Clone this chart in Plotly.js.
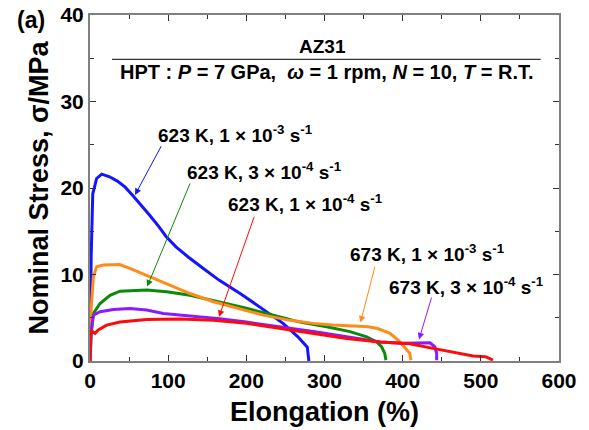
<!DOCTYPE html>
<html>
<head>
<meta charset="utf-8">
<script src="https://cdn.plot.ly/plotly-3.0.1.min.js"></script>
<style>html,body{margin:0;padding:0;background:#fff;}#chart{width:589px;height:430px;}</style>
</head>
<body>
<div id="chart"></div>
<script>
// Data (Elongation %, Nominal stress MPa)
const blueX   = [0, 1.5, 3.5, 8.5, 15, 25, 35, 45, 55, 65, 75, 87.6, 97.3, 110, 126, 145, 165, 194, 222.7, 247, 266, 273, 278, 279.5, 280];
const blueY   = [0, 12, 19.3, 21.1, 21.6, 21.3, 20.8, 20.1, 19.1, 18.1, 17.0, 15.6, 14.4, 13.2, 12.0, 10.7, 9.35, 7.7, 5.9, 4.35, 2.8, 2.1, 1.6, 0.4, 0];

const greenX  = [0, 1.5, 4.3, 12.8, 25.6, 38.4, 72.5, 98, 128, 166, 200, 234.5, 268.6, 302.8, 332.6, 354, 366.7, 373, 377, 378.6];
const greenY  = [0, 3, 5.5, 6.65, 7.6, 8.07, 8.2, 8.0, 7.6, 6.85, 6.1, 5.3, 4.5, 3.96, 3.4, 2.8, 2.2, 1.65, 0.9, 0.1];

const orangeX = [0, 1.5, 4.3, 8.5, 17, 38, 51, 72.5, 98, 128, 158, 187.6, 221.7, 256, 285.7, 311, 341, 356, 368, 383.8, 394.4, 403, 409, 410.6];
const orangeY = [0, 6, 9.7, 10.9, 11.1, 11.15, 10.7, 9.9, 9.0, 7.8, 6.85, 6.1, 5.3, 4.7, 4.35, 4.15, 4.05, 3.95, 3.75, 3.2, 2.4, 1.5, 0.9, 0.1];

const purpleX = [0, 1.5, 4.3, 12.8, 30, 51, 72.5, 93.8, 128, 166, 200, 243, 285.7, 328.4, 371, 400, 422, 435, 441, 443.5, 443.5];
const purpleY = [0, 3.5, 5.3, 5.7, 5.95, 6.07, 5.9, 5.5, 5.2, 4.9, 4.5, 3.96, 3.4, 2.8, 2.2, 2.04, 2.1, 2.1, 1.65, 0.9, 0.1];

const redX    = [0, 0.9, 3, 6.4, 10.6, 21.3, 38.4, 72.5, 115, 158, 200, 243, 285.7, 328.4, 371, 409, 439, 473, 490, 506, 512, 515.5];
const redY    = [0, 3.6, 3.4, 3.2, 3.6, 4.15, 4.5, 4.8, 4.85, 4.7, 4.35, 3.77, 3.2, 2.6, 2.2, 2.0, 1.46, 0.9, 0.58, 0.5, 0.3, 0.1];

const seriesLabels = [
  '623 K, 1 × 10<sup>-3</sup> s<sup>-1</sup>',
  '623 K, 3 × 10<sup>-4</sup> s<sup>-1</sup>',
  '623 K, 1 × 10<sup>-4</sup> s<sup>-1</sup>',
  '673 K, 1 × 10<sup>-3</sup> s<sup>-1</sup>',
  '673 K, 3 × 10<sup>-4</sup> s<sup>-1</sup>'
];
const xTicks = [0, 100, 200, 300, 400, 500, 600];
const yTicks = [0, 10, 20, 30, 40];

const C = {blue:'#1414ff', green:'#0a8a0a', orange:'#ff8c1a', purple:'#8a1aff', red:'#ff0a0a'};
const FONT = 'Liberation Sans, Arial, sans-serif';

function tr(x, y, c) {
  return {x: x, y: y, type: 'scatter', mode: 'lines', line: {color: c, width: 3}, hoverinfo: 'skip', showlegend: false};
}
const data = [
  tr(blueX, blueY, C.blue),
  tr(greenX, greenY, C.green),
  tr(orangeX, orangeY, C.orange),
  tr(purpleX, purpleY, C.purple),
  tr(redX, redY, C.red)
];

function label(text, x, y) {
  return {text: '<b>' + text + '</b>', x: x, y: y, xref: 'x', yref: 'y', xanchor: 'left', yanchor: 'middle',
          showarrow: false, font: {family: FONT, size: 19, color: '#000'}};
}
function arrow(tipX, tipY, tailX, tailY, c) {
  return {text: '', x: tipX, y: tipY, ax: tailX, ay: tailY, xref: 'x', yref: 'y', axref: 'x', ayref: 'y',
          showarrow: true, arrowhead: 2, arrowsize: 1.3, arrowwidth: 1, arrowcolor: c, standoff: 0, startstandoff: 0};
}

const layout = {
  width: 589, height: 430,
  margin: {l: 90, r: 30, t: 15, b: 69},
  paper_bgcolor: '#fff', plot_bgcolor: '#fff',
  font: {family: FONT, color: '#000'},
  xaxis: {
    range: [0, 600], tickvals: xTicks, ticktext: xTicks.map(v => '<b>' + v + '</b>'),
    ticks: 'inside', ticklen: 6, tickwidth: 1, tickcolor: '#333',
    minor: {dtick: 50, tick0: 0, ticks: 'inside', ticklen: 4, tickcolor: '#333'},
    showline: true, linecolor: '#808080', linewidth: 2, mirror: 'allticks',
    showgrid: false, zeroline: false,
    tickfont: {family: FONT, size: 21, color: '#000'},
    title: {text: '<b>Elongation (%)</b>', font: {family: FONT, size: 27, color: '#000'}, standoff: 11}
  },
  yaxis: {
    range: [0, 40], tickvals: yTicks, ticktext: yTicks.map(v => '<b>' + v + '</b>'),
    ticks: 'inside', ticklen: 6, tickwidth: 1, tickcolor: '#333',
    minor: {dtick: 5, tick0: 0, ticks: 'inside', ticklen: 4, tickcolor: '#333'},
    showline: true, linecolor: '#808080', linewidth: 2, mirror: 'allticks',
    showgrid: false, zeroline: false,
    tickfont: {family: FONT, size: 21, color: '#000'},
    title: {text: '<b>Nominal Stress, σ/MPa</b>', font: {family: FONT, size: 27, color: '#000'}, standoff: 4}
  },
  shapes: [
    {type: 'line', xref: 'paper', yref: 'paper', x0: 0.047, x1: 0.961, y0: 0.872, y1: 0.872, line: {color: '#000', width: 1}}
  ],
  annotations: [
    {text: '<b>(a)</b>', xref: 'paper', yref: 'paper', x: -0.125, y: 0.986, xanchor: 'center', yanchor: 'middle', showarrow: false, font: {family: FONT, size: 23, color: '#000'}},
    {text: '<b>AZ31</b>', xref: 'paper', yref: 'paper', x: 0.4965, y: 0.908, xanchor: 'center', yanchor: 'middle', showarrow: false, font: {family: FONT, size: 19, color: '#000'}},
    {text: '<b>HPT : <i>P</i> = 7 GPa,  <i>ω</i> = 1 rpm, <i>N</i> = 10, <i>T</i> = R.T.</b>', xref: 'paper', yref: 'paper', x: 0.5045, y: 0.834, xanchor: 'center', yanchor: 'middle', showarrow: false, font: {family: FONT, size: 20, color: '#000'}},
    label(seriesLabels[0], 85, 26.3),
    label(seriesLabels[1], 121.6, 21.96),
    label(seriesLabels[2], 173.6, 18.3),
    label(seriesLabels[3], 330, 12.5),
    label(seriesLabels[4], 380.5, 8.7),
    arrow(57.6, 19.2, 92.1, 25.0, C.blue),
    arrow(73.1, 8.6, 128.8, 20.7, C.green),
    arrow(165, 5.1, 210.7, 16.85, C.red),
    arrow(346, 4.45, 365, 11.08, C.orange),
    arrow(420.9, 2.5, 437.5, 7.5, C.purple)
  ]
};

Plotly.newPlot('chart', data, layout, {staticPlot: true, displayModeBar: false});
</script>
</body>
</html>
